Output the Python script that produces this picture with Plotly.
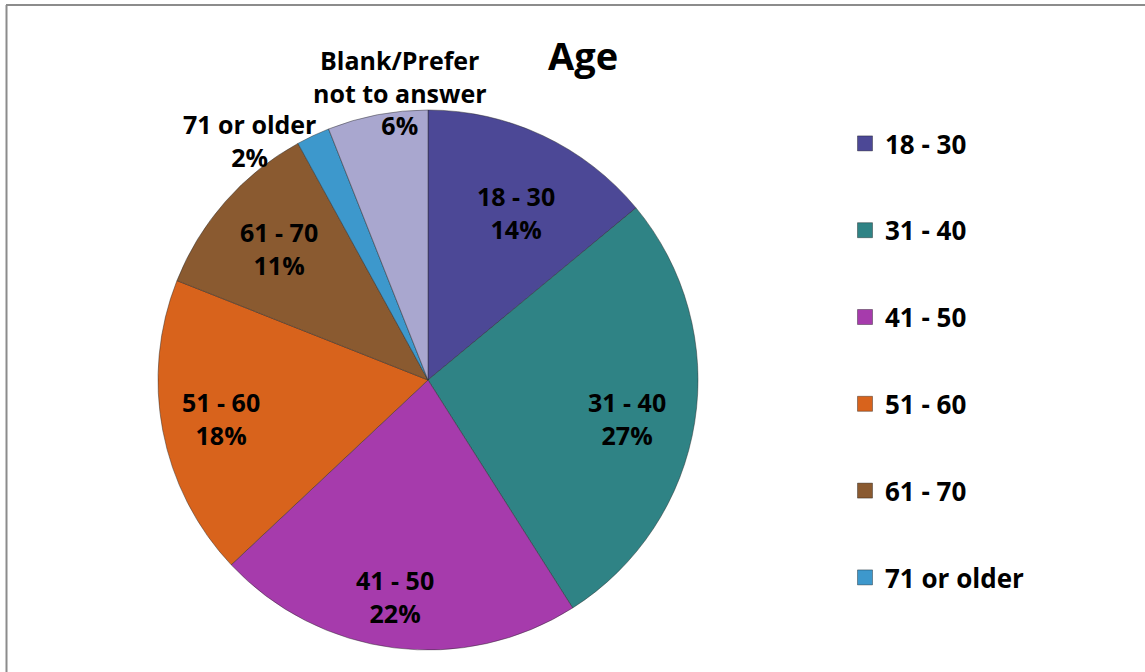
import math
import plotly.graph_objects as go

categories = ["18 - 30", "31 - 40", "41 - 50", "51 - 60", "61 - 70", "71 or older", "Blank/Prefer<br>not to answer"]
values = [14, 27, 22, 18, 11, 2, 6]
legend_labels = ["18 - 30", "31 - 40", "41 - 50", "51 - 60", "61 - 70", "71 or older"]

colors = ["#4C4896", "#2F8385", "#A63BAC", "#D8631C", "#8A5A30", "#3D98CC", "#A9A7CF"]
# label placement (style): radial factor and angular offset in degrees
label_radius = [0.70, 0.75, 0.81, 0.78, 0.735, 1.107, 1.07]
label_angle_off = [2.7, 2.0, 1.4, 0.3, 0.0, -11.4, 5.2]

W, H = 1145, 672
cx, cy, R = 428, 380, 270
FONT = "Open Sans"

fig = go.Figure()
fig.add_trace(go.Pie(
    labels=categories, values=values, sort=False, direction="clockwise", rotation=0,
    marker=dict(colors=colors, line=dict(color="rgba(40,40,40,0.45)", width=1)),
    textinfo="none", hoverinfo="label+percent", showlegend=False,
    domain=dict(x=[(cx - R) / W, (cx + R) / W], y=[1 - (cy + R) / H, 1 - (cy - R) / H]),
))

# legend via dummy traces
for lab, col in zip(legend_labels, colors):
    fig.add_trace(go.Scatter(x=[None], y=[None], mode="markers", name=f"<b>{lab}</b>", legendgroup=lab,
                             marker=dict(symbol="square", size=15, color=col,
                                         line=dict(color="rgba(0,0,0,0.35)", width=1))))

# slice labels computed from the values
total = sum(values)
cum = 0
annotations = []
for cat, v, rf, off in zip(categories, values, label_radius, label_angle_off):
    mid = math.radians((cum + v / 2) / total * 360 + off)
    cum += v
    px = cx + rf * R * math.sin(mid)
    py = cy - rf * R * math.cos(mid)
    pct = round(v / total * 100)
    annotations.append(dict(x=px / W, y=1 - py / H, xref="paper", yref="paper",
                            text=f"<b>{cat}<br>{pct}%</b>", showarrow=False,
                            font=dict(family=FONT, size=25, color="black"),
                            xanchor="center", yanchor="middle", align="center"))

annotations.append(dict(x=583 / W, y=1 - 55 / H, xref="paper", yref="paper", text="<b>Age</b>",
                        showarrow=False, font=dict(family=FONT, size=38, color="black"),
                        xanchor="center", yanchor="middle"))

fig.update_layout(
    width=W, height=H,
    margin=dict(l=0, r=0, t=0, b=0),
    paper_bgcolor="white", plot_bgcolor="white",
    xaxis=dict(visible=False), yaxis=dict(visible=False),
    annotations=annotations,
    legend=dict(x=845 / W, y=1 - 120 / H, xanchor="left", yanchor="top",
                font=dict(family=FONT, size=26, color="black"),
                tracegroupgap=50, itemwidth=30, bgcolor="rgba(0,0,0,0)"),
    shapes=[
        dict(type="line", xref="paper", yref="paper", x0=6 / W, x1=1, y0=1 - 5 / H, y1=1 - 5 / H,
             line=dict(color="#8C8C8C", width=2)),
        dict(type="line", xref="paper", yref="paper", x0=6.5 / W, x1=6.5 / W, y0=0, y1=1 - 5 / H,
             line=dict(color="#8C8C8C", width=2)),
    ],
)

fig.write_html("out.html", config={"displayModeBar": False},
               post_script="document.body.style.margin='0';document.body.style.overflow='hidden';")
